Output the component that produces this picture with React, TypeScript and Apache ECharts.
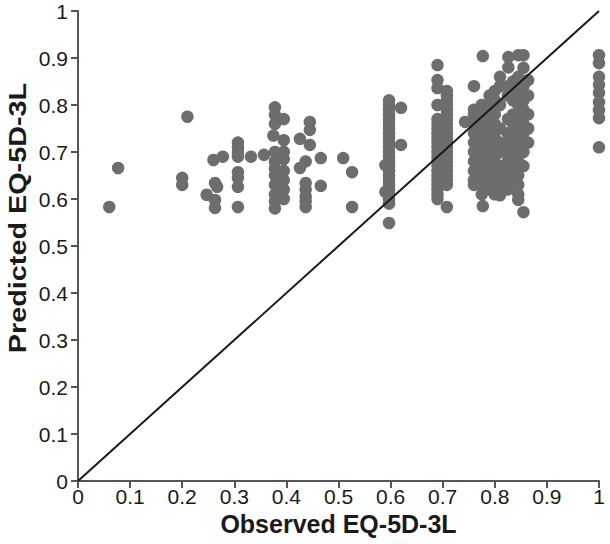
import React, { useEffect, useRef } from "react";
import * as echarts from "echarts";

const xTickLabels = ["0", "0.1", "0.2", "0.3", "0.4", "0.5", "0.6", "0.7", "0.8", "0.9", "1"];
const yTickLabels = ["0", "0.1", "0.2", "0.3", "0.4", "0.5", "0.6", "0.7", "0.8", "0.9", "1"];
const xAxisTitle = "Observed EQ-5D-3L";
const yAxisTitle = "Predicted EQ-5D-3L";

// Observed (x) vs predicted (y) EQ-5D-3L, low-observed groups
const lowGroup: number[][] = [
  [0.06, 0.583], [0.077, 0.666], [0.21, 0.775], [0.2, 0.645], [0.2, 0.63],
  [0.247, 0.609], [0.26, 0.683], [0.278, 0.69], [0.263, 0.634], [0.267, 0.626],
  [0.263, 0.598], [0.263, 0.581],
  [0.307, 0.72], [0.307, 0.71], [0.307, 0.7], [0.307, 0.69], [0.307, 0.657],
  [0.307, 0.645], [0.307, 0.626], [0.307, 0.583],
  [0.332, 0.69], [0.357, 0.694],
  [0.378, 0.795], [0.378, 0.779], [0.378, 0.76], [0.375, 0.735], [0.378, 0.7], [0.378, 0.68],
  [0.378, 0.665], [0.378, 0.65], [0.378, 0.63], [0.378, 0.61], [0.378, 0.595], [0.378, 0.58],
  [0.395, 0.77], [0.395, 0.725], [0.395, 0.7], [0.395, 0.685], [0.395, 0.66],
  [0.395, 0.64], [0.395, 0.62], [0.395, 0.6],
  [0.426, 0.728], [0.426, 0.666], [0.445, 0.764], [0.445, 0.747], [0.445, 0.715],
  [0.437, 0.68], [0.437, 0.634], [0.437, 0.62], [0.437, 0.605], [0.437, 0.595], [0.437, 0.583],
  [0.466, 0.687], [0.466, 0.628], [0.509, 0.687], [0.526, 0.657], [0.526, 0.583],
];

const midGroup: number[][] = [
  [0.597, 0.81], [0.597, 0.8], [0.597, 0.79], [0.597, 0.78], [0.597, 0.77], [0.597, 0.76],
  [0.597, 0.75], [0.597, 0.74], [0.597, 0.73], [0.597, 0.72], [0.597, 0.71], [0.597, 0.7],
  [0.597, 0.69], [0.597, 0.68], [0.597, 0.67], [0.597, 0.66], [0.597, 0.65], [0.597, 0.64],
  [0.597, 0.63], [0.597, 0.62], [0.597, 0.61], [0.597, 0.6], [0.597, 0.59], [0.597, 0.549],
  [0.62, 0.794], [0.62, 0.715], [0.59, 0.672], [0.59, 0.615],
  [0.69, 0.885], [0.69, 0.853], [0.69, 0.836], [0.69, 0.8], [0.69, 0.77], [0.69, 0.76],
  [0.69, 0.75], [0.69, 0.74], [0.69, 0.73], [0.69, 0.72], [0.69, 0.71], [0.69, 0.7],
  [0.69, 0.69], [0.69, 0.68], [0.69, 0.67], [0.69, 0.66], [0.69, 0.65], [0.69, 0.64],
  [0.69, 0.63], [0.69, 0.62], [0.69, 0.61], [0.69, 0.6],
  [0.708, 0.83], [0.708, 0.82], [0.708, 0.81], [0.708, 0.8], [0.708, 0.79], [0.708, 0.78],
  [0.708, 0.77], [0.708, 0.76], [0.708, 0.75], [0.708, 0.74], [0.708, 0.73], [0.708, 0.72],
  [0.708, 0.71], [0.708, 0.7], [0.708, 0.69], [0.708, 0.68], [0.708, 0.67], [0.708, 0.66],
  [0.708, 0.65], [0.708, 0.64], [0.708, 0.63], [0.708, 0.583],
];

const highGroup: number[][] = [
  [0.743, 0.764],
  [0.76, 0.84], [0.76, 0.79], [0.76, 0.78], [0.76, 0.76], [0.76, 0.74], [0.76, 0.72],
  [0.76, 0.7], [0.76, 0.68], [0.76, 0.66], [0.76, 0.64], [0.76, 0.63],
  [0.777, 0.904], [0.775, 0.8], [0.775, 0.78], [0.775, 0.77], [0.775, 0.75], [0.775, 0.73],
  [0.775, 0.71], [0.775, 0.7], [0.775, 0.68], [0.775, 0.67], [0.775, 0.65], [0.775, 0.63],
  [0.775, 0.61], [0.777, 0.585],
  [0.79, 0.82], [0.79, 0.8], [0.79, 0.79], [0.79, 0.77], [0.79, 0.75], [0.79, 0.74],
  [0.79, 0.72], [0.79, 0.7], [0.79, 0.69], [0.79, 0.67], [0.79, 0.65], [0.79, 0.64], [0.79, 0.62],
  [0.8, 0.83], [0.8, 0.81], [0.8, 0.78], [0.8, 0.76], [0.8, 0.73], [0.8, 0.71],
  [0.8, 0.69], [0.8, 0.66], [0.8, 0.64], [0.8, 0.61],
  [0.81, 0.86], [0.81, 0.84], [0.81, 0.8], [0.81, 0.75], [0.81, 0.72], [0.81, 0.7],
  [0.81, 0.67], [0.81, 0.65], [0.81, 0.63], [0.81, 0.608],
  [0.826, 0.902], [0.826, 0.88], [0.825, 0.84], [0.825, 0.82], [0.825, 0.77], [0.825, 0.74],
  [0.825, 0.72], [0.825, 0.7], [0.825, 0.68], [0.825, 0.66], [0.825, 0.64], [0.825, 0.62],
  [0.835, 0.85], [0.835, 0.83], [0.835, 0.81], [0.835, 0.78], [0.835, 0.76], [0.835, 0.73],
  [0.835, 0.71], [0.835, 0.69], [0.835, 0.67], [0.835, 0.65],
  [0.845, 0.906], [0.845, 0.86], [0.845, 0.82], [0.845, 0.8], [0.845, 0.77], [0.845, 0.75],
  [0.845, 0.72], [0.845, 0.7], [0.845, 0.68], [0.845, 0.65], [0.845, 0.63], [0.845, 0.61], [0.845, 0.598],
  [0.855, 0.906], [0.855, 0.879], [0.855, 0.84], [0.855, 0.81], [0.855, 0.79], [0.855, 0.76],
  [0.855, 0.74], [0.855, 0.72], [0.855, 0.7], [0.855, 0.67], [0.855, 0.572],
  [0.864, 0.853], [0.864, 0.82], [0.864, 0.78], [0.864, 0.75], [0.864, 0.72],
];

const fullHealth: number[][] = [
  [1, 0.906], [1, 0.889], [1, 0.86], [1, 0.843], [1, 0.826], [1, 0.806], [1, 0.789], [1, 0.772], [1, 0.71],
];

const identityLine: number[][] = [[0, 0], [1, 1]];

export default function App() {
  const ref = useRef<HTMLDivElement>(null);
  useEffect(() => {
    if (!ref.current) return;
    const chart = echarts.init(ref.current, null, { renderer: "svg" });
    const font = "'Liberation Sans', Arial, Helvetica, sans-serif";
    const points = [...lowGroup, ...midGroup, ...highGroup, ...fullHealth];
    chart.setOption({
      animation: false,
      backgroundColor: "#ffffff",
      grid: { left: 78, right: 11, top: 11, bottom: 63, containLabel: false },
      graphic: [
        {
          type: "text",
          x: 18,
          y: 218,
          rotation: Math.PI / 2,
          scaleX: 1.2,
          style: {
            text: yAxisTitle,
            fontFamily: font,
            fontWeight: "bold",
            fontSize: 24,
            fill: "#1a1a1a",
            align: "center",
            verticalAlign: "middle",
          },
        },
      ],
      xAxis: {
        type: "value",
        min: 0,
        max: 1,
        interval: 0.1,
        name: xAxisTitle,
        nameLocation: "middle",
        nameGap: 25,
        nameTextStyle: { fontFamily: font, fontWeight: "bold", fontSize: 25, color: "#1a1a1a" },
        axisLine: { show: true, lineStyle: { color: "#555555", width: 2 } },
        axisTick: { show: true, length: 7, lineStyle: { color: "#555555", width: 2 } },
        splitLine: { show: false },
        axisLabel: {
          fontFamily: font,
          fontSize: 21,
          color: "#1a1a1a",
          margin: 5,
          formatter: (v: number) => xTickLabels[Math.round(v * 10)],
        },
      },
      yAxis: {
        type: "value",
        min: 0,
        max: 1,
        interval: 0.1,
        axisLine: { show: true, lineStyle: { color: "#555555", width: 2 } },
        axisTick: { show: true, length: 7, lineStyle: { color: "#555555", width: 2 } },
        splitLine: { show: false },
        axisLabel: {
          fontFamily: font,
          fontSize: 21,
          color: "#1a1a1a",
          margin: 10,
          formatter: (v: number) => yTickLabels[Math.round(v * 10)],
        },
      },
      series: [
        {
          type: "scatter",
          data: points,
          symbol: "circle",
          symbolSize: 12.5,
          itemStyle: { color: "#6d6d6d", opacity: 1 },
          z: 2,
        },
        {
          type: "line",
          data: identityLine,
          showSymbol: false,
          symbol: "none",
          lineStyle: { color: "#1a1a1a", width: 2 },
          z: 3,
        },
      ],
    });
    return () => chart.dispose();
  }, []);
  return <div ref={ref} style={{ position: "fixed", left: 0, top: 0, width: 610, height: 544 }} />;
}
